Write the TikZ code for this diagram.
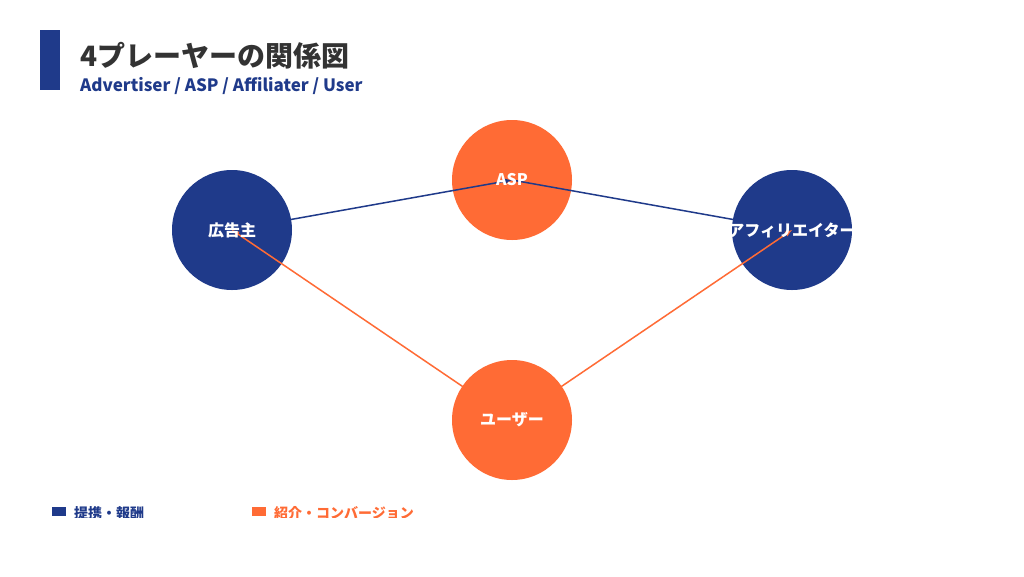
\documentclass[tikz,border=0pt]{standalone}
\usepackage{fontspec}
\newfontfamily\jpfont{Noto Sans CJK JP}
\usetikzlibrary{positioning}
\definecolor{navy}{RGB}{31,58,138}
\definecolor{coral}{RGB}{255,107,53}
\definecolor{ink}{RGB}{51,51,51}
\tikzset{
  player/.style={circle,minimum size=120pt,inner sep=0pt},
  tag/.style={text=white,font=\jpfont\bfseries\fontsize{16}{16}\selectfont},
  link/.style={-latex,line width=1.5pt}
}
\begin{document}
\begin{tikzpicture}[x=1pt,y=-1pt]
\useasboundingbox (0,0) rectangle (1024,576);
\fill[white] (0,0) rectangle (1024,576);

%Title
\fill[navy] (40,30) rectangle (60,90);
\node[anchor=base west,inner sep=0pt,text=ink,font=\jpfont\bfseries\fontsize{28}{28}\selectfont] (title) at (80,66) {4プレーヤーの関係図};
\node[anchor=base west,inner sep=0pt,text=navy,font=\jpfont\bfseries\fontsize{17}{17}\selectfont] (sub) at (80,91) {Advertiser / ASP / Affiliater / User};

%Players
\node[player,fill=coral] (asp) at (512,180) {};
\node[player] (ads) at (232,230) {};
\node[player] (aff) at (792,230) {};
\node[player] (usr) at (512,420) {};
\draw[link,navy] (ads.center) -- (asp.center);
\draw[link,navy] (asp.center) -- (aff.center);
\fill[navy] (ads) circle (60);
\fill[navy] (aff) circle (60);
\draw[link,coral] (usr.center) -- (ads.center);
\draw[link,coral] (usr.center) -- (aff.center);
\fill[coral] (usr) circle (60);

%Labels
\node[tag] at (asp) {ASP};
\node[tag] at (ads) {広告主};
\node[tag] at (aff) {アフィリエイター};
\node[tag] at (usr) {ユーザー};

%Legend
\begin{scope}
\clip (40,495) rectangle (460,517);
\fill[navy] (52,507) rectangle (66,516);
\node[anchor=base west,inner sep=0pt,text=navy,font=\jpfont\bfseries\fontsize{14}{14}\selectfont] (key1) at (74,518) {提携・報酬};
\fill[coral] (252,507) rectangle (266,516);
\node[anchor=base west,inner sep=0pt,text=coral,font=\jpfont\bfseries\fontsize{14}{14}\selectfont] (key2) at (274,518) {紹介・コンバージョン};
\end{scope}
\end{tikzpicture}
\end{document}
